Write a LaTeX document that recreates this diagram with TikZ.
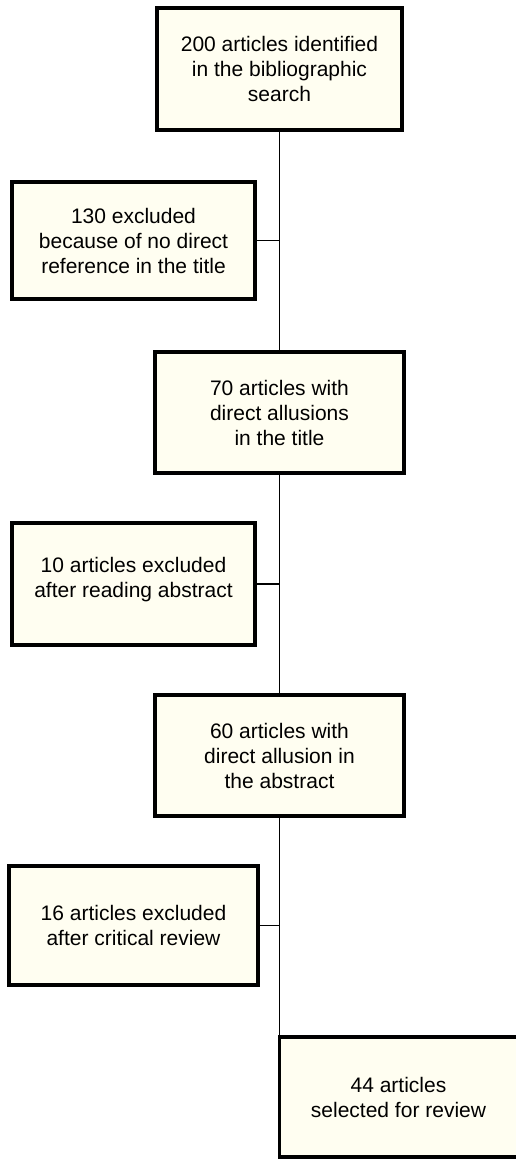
\documentclass[tikz,border=0pt]{standalone}
\usepackage{fontspec}
\setmainfont{Liberation Sans}
\usepackage{tikz}
\usetikzlibrary{calc}

\definecolor{boxfill}{HTML}{FFFEF1}

\begin{document}
\begin{tikzpicture}
      [
        x=1pt, y=-1pt,
        box/.style={draw=black, fill=boxfill, line width=3.5pt, rectangle,
          align=center, inner sep=0pt,
          font=\fontsize{21}{25}\selectfont},
        link/.style={draw=black, line width=1.8pt}
      ]
      \useasboundingbox (0,0) rectangle (516,1159);
      % main column
      \node [box, minimum width=245pt, minimum height=122pt] (search) at (279.5,69)
        {200 articles identified\\in the bibliographic\\search};
      \node [box, minimum width=249pt, minimum height=121pt] (title) at (279.5,412.5)
        {70 articles with\\direct allusions\\in the title};
      \node [box, minimum width=249pt, minimum height=121pt] (abstract) at (279.5,755.5)
        {60 articles with\\direct allusion in\\the abstract};
      \node [box, minimum width=238pt, minimum height=120pt] (selected) at (398.5,1097)
        {44 articles\\selected for review};
      % exclusions
      \node [box, minimum width=243pt, minimum height=117pt] (excla) at (133.5,240.5)
        {130 excluded\\because of no direct\\reference in the title};
      \node [box, minimum width=243pt, minimum height=122pt, text depth=14pt] (exclb) at (133.5,584)
        {10 articles excluded\\after reading abstract};
      \node [box, minimum width=249pt, minimum height=119pt] (exclc) at (133.5,925.5)
        {16 articles excluded\\after critical review};
      % trunk
      \draw [link] (search.south) -- (title.north);
      \draw [link] (title.south) -- (abstract.north);
      \draw [link] (abstract.south) -- (abstract.south |- selected.north);
      % side branches
      \draw [link] (excla.east) -- (excla.east -| search.south);
      \draw [link] (exclb.east) -- (exclb.east -| title.south);
      \draw [link] (exclc.east) -- (exclc.east -| abstract.south);
    \end{tikzpicture}
\end{document}
